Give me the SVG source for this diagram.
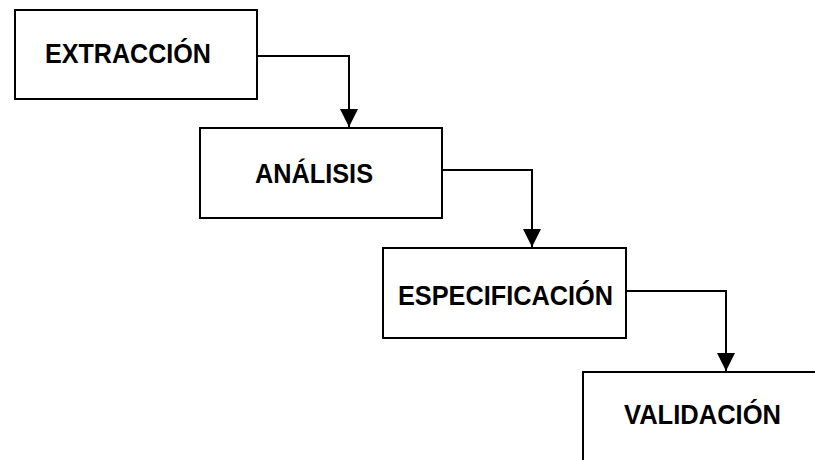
<svg xmlns="http://www.w3.org/2000/svg" width="815" height="460" viewBox="0 0 815 460">
<style>
.box{fill:#fff;stroke:#000;stroke-width:2}
.lbl{font-family:"Liberation Sans",Arial,sans-serif;font-weight:bold;font-size:28px;fill:#000}
.conn{fill:none;stroke:#000;stroke-width:2}
</style>
<defs>
<marker id="arr" markerUnits="userSpaceOnUse" markerWidth="18" markerHeight="18" refX="18" refY="9" orient="auto" viewBox="0 0 18 18">
<path d="M0,0 L18,9 L0,18 Z" fill="#000"/>
</marker>
</defs>
<rect width="815" height="460" fill="#fff"/>
<g id="extraccion">
<rect class="box" x="15" y="10" width="242" height="89"/>
<text class="lbl" x="45" y="63" textLength="166" lengthAdjust="spacingAndGlyphs">EXTRACCIÓN</text>
</g>
<g id="analisis">
<rect class="box" x="200" y="128" width="242" height="90"/>
<text class="lbl" x="255" y="183" textLength="118" lengthAdjust="spacingAndGlyphs">ANÁLISIS</text>
</g>
<g id="especificacion">
<rect class="box" x="383" y="248" width="243" height="90"/>
<text class="lbl" x="398" y="305" textLength="215" lengthAdjust="spacingAndGlyphs">ESPECIFICACIÓN</text>
</g>
<g id="validacion">
<rect class="box" x="583" y="372" width="300" height="120"/>
<text class="lbl" x="624" y="424" textLength="157" lengthAdjust="spacingAndGlyphs">VALIDACIÓN</text>
</g>
<g id="connectors">
<path class="conn" d="M257,56 H349 V127" marker-end="url(#arr)"/>
<path class="conn" d="M442,170 H532 V247" marker-end="url(#arr)"/>
<path class="conn" d="M626,291 H726 V371" marker-end="url(#arr)"/>
</g>
</svg>
